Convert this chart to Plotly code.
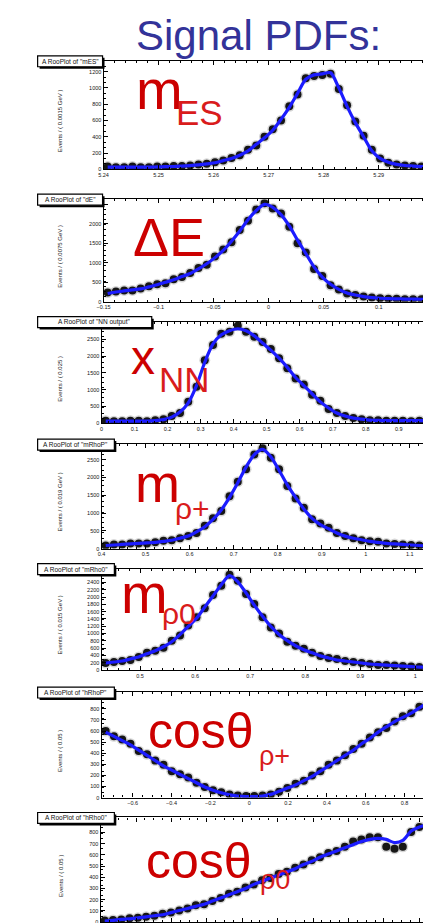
import plotly.graph_objects as go

W, H = 431, 923
NBINS = 40

# ---------------- data (normalised to frame height) ----------------
mes_range = [5.24, 5.30]
mes_fit = [0.02, 0.02, 0.02, 0.02, 0.02, 0.02, 0.022, 0.024, 0.026, 0.03, 0.034, 0.04, 0.05, 0.06, 0.08, 0.10,
           0.13, 0.17, 0.23, 0.29, 0.36, 0.46, 0.57, 0.70, 0.83, 0.87, 0.88, 0.89, 0.75, 0.58, 0.43, 0.30, 0.17,
           0.10, 0.065, 0.045, 0.035, 0.03, 0.025, 0.022]
mes_dots = [0.025, 0.02, 0.02, 0.025, 0.02, 0.02, 0.025, 0.025, 0.03, 0.03, 0.035, 0.045, 0.05, 0.065, 0.08, 0.105,
            0.13, 0.18, 0.22, 0.30, 0.37, 0.45, 0.58, 0.69, 0.84, 0.86, 0.87, 0.88, 0.74, 0.59, 0.44, 0.31, 0.18,
            0.10, 0.06, 0.045, 0.035, 0.03, 0.025, 0.02]
mes_yticks = ["0", "200", "400", "600", "800", "1000", "1200"]

de_range = [-0.15, 0.15]
de_fit = [0.08, 0.095, 0.105, 0.115, 0.125, 0.145, 0.165, 0.19, 0.215, 0.245, 0.275, 0.32, 0.37, 0.43, 0.50, 0.59,
          0.69, 0.80, 0.89, 0.95, 0.92, 0.85, 0.74, 0.60, 0.47, 0.34, 0.24, 0.17, 0.12, 0.085, 0.065, 0.05, 0.04,
          0.034, 0.03, 0.028, 0.026, 0.025, 0.024, 0.024]
de_dots = [0.09, 0.10, 0.11, 0.11, 0.13, 0.15, 0.17, 0.18, 0.22, 0.24, 0.28, 0.33, 0.36, 0.44, 0.51, 0.58, 0.70,
           0.79, 0.90, 0.96, 0.91, 0.86, 0.73, 0.57, 0.48, 0.32, 0.25, 0.16, 0.12, 0.08, 0.065, 0.05, 0.04, 0.035,
           0.03, 0.03, 0.025, 0.025, 0.025, 0.025]
de_yticks = ["0", "500", "1000", "1500", "2000", "2500"]

xnn_range = [0.0, 1.0]
xnn_fit = [0.02, 0.02, 0.02, 0.02, 0.02, 0.021, 0.025, 0.035, 0.06, 0.11, 0.20, 0.37, 0.60, 0.78, 0.87, 0.91, 0.93,
           0.91, 0.86, 0.79, 0.72, 0.64, 0.55, 0.45, 0.37, 0.29, 0.21, 0.15, 0.10, 0.07, 0.05, 0.04, 0.03, 0.027,
           0.025, 0.025, 0.025, 0.025, 0.025, 0.025]
xnn_dots = [0.025, 0.02, 0.02, 0.025, 0.025, 0.02, 0.03, 0.04, 0.07, 0.10, 0.21, 0.36, 0.62, 0.77, 0.88, 0.90, 0.96,
            0.90, 0.85, 0.80, 0.73, 0.64, 0.54, 0.44, 0.38, 0.28, 0.22, 0.14, 0.10, 0.07, 0.05, 0.04, 0.03, 0.03,
            0.025, 0.025, 0.025, 0.02, 0.025, 0.025]
xnn_yticks = ["0", "500", "1000", "1500", "2000", "2500"]

mrp_range = [0.40, 1.15]
mrp_fit = [0.03, 0.035, 0.04, 0.045, 0.05, 0.055, 0.06, 0.07, 0.08, 0.10, 0.12, 0.16, 0.21, 0.28, 0.37, 0.49, 0.63,
           0.78, 0.90, 0.95, 0.88, 0.75, 0.61, 0.49, 0.38, 0.29, 0.23, 0.19, 0.15, 0.12, 0.10, 0.085, 0.07, 0.06,
           0.05, 0.045, 0.04, 0.035, 0.03, 0.025]
mrp_dots = [0.03, 0.04, 0.04, 0.05, 0.05, 0.05, 0.06, 0.075, 0.08, 0.10, 0.12, 0.15, 0.22, 0.29, 0.36, 0.50, 0.64,
            0.76, 0.90, 0.96, 0.87, 0.76, 0.60, 0.48, 0.39, 0.28, 0.24, 0.20, 0.15, 0.12, 0.10, 0.08, 0.07, 0.065,
            0.05, 0.045, 0.04, 0.035, 0.03, 0.03]
mrp_yticks = ["0", "500", "1000", "1500", "2000", "2500"]

mr0_range = [0.43, 1.03]
mr0_fit = [0.07, 0.08, 0.09, 0.11, 0.13, 0.16, 0.19, 0.23, 0.28, 0.35, 0.43, 0.51, 0.62, 0.73, 0.84, 0.93, 0.87,
           0.76, 0.64, 0.53, 0.43, 0.35, 0.29, 0.24, 0.20, 0.17, 0.14, 0.12, 0.10, 0.09, 0.08, 0.07, 0.06, 0.055,
           0.05, 0.045, 0.04, 0.035, 0.03, 0.03]
mr0_dots = [0.07, 0.08, 0.09, 0.10, 0.13, 0.17, 0.19, 0.22, 0.29, 0.34, 0.44, 0.52, 0.61, 0.74, 0.83, 0.94, 0.88,
            0.75, 0.65, 0.52, 0.42, 0.36, 0.28, 0.24, 0.21, 0.17, 0.14, 0.12, 0.11, 0.09, 0.08, 0.07, 0.06, 0.05,
            0.05, 0.045, 0.04, 0.035, 0.03, 0.03]
mr0_yticks = ["0", "200", "400", "600", "800", "1000", "1200", "1400", "1600", "1800", "2000", "2200", "2400"]

ctp_range = [-0.76, 0.94]
ctp_fit = [0.62, 0.58, 0.54, 0.50, 0.45, 0.40, 0.35, 0.30, 0.26, 0.22, 0.18, 0.14, 0.10, 0.07, 0.045, 0.025, 0.015,
           0.01, 0.01, 0.015, 0.03, 0.06, 0.09, 0.12, 0.16, 0.20, 0.25, 0.30, 0.35, 0.40, 0.45, 0.51, 0.56, 0.62,
           0.67, 0.72, 0.76, 0.80, 0.85, 0.90]
ctp_dots = [0.63, 0.58, 0.55, 0.51, 0.44, 0.41, 0.35, 0.31, 0.25, 0.22, 0.19, 0.14, 0.10, 0.07, 0.05, 0.03, 0.02,
            0.015, 0.015, 0.02, 0.03, 0.055, 0.09, 0.13, 0.16, 0.21, 0.25, 0.31, 0.35, 0.40, 0.46, 0.51, 0.57, 0.62,
            0.66, 0.72, 0.77, 0.80, 0.86, 0.90]
ctp_yticks = ["0", "100", "200", "300", "400", "500", "600", "700", "800"]

ct0_range = [-1.0, 0.87]
ct0_fit = [0.01, 0.015, 0.025, 0.03, 0.04, 0.05, 0.06, 0.07, 0.09, 0.11, 0.13, 0.15, 0.17, 0.20, 0.23, 0.26, 0.29,
           0.32, 0.36, 0.39, 0.42, 0.45, 0.48, 0.51, 0.55, 0.58, 0.62, 0.65, 0.68, 0.71, 0.74, 0.77, 0.79, 0.80,
           0.79, 0.76, 0.78, 0.87, 0.91, 0.93]
ct0_dots = [0.015, 0.02, 0.025, 0.035, 0.04, 0.05, 0.06, 0.08, 0.09, 0.11, 0.13, 0.16, 0.17, 0.20, 0.23, 0.27, 0.29,
            0.33, 0.36, 0.40, 0.42, 0.46, 0.48, 0.52, 0.55, 0.59, 0.62, 0.66, 0.68, 0.72, 0.77, 0.79, 0.81, 0.81,
            0.72, 0.70, 0.72, 0.86, 0.91, 0.93]
ct0_yticks = ["0", "100", "200", "300", "400", "500", "600", "700", "800"]

# ---------------- panel layout ----------------
panels = [
    dict(top=53, bot=162, left=90, right=425, xr=mes_range, xd=0.01, ystep=0.15, yt=mes_yticks,
         fit=mes_fit, dots=mes_dots, boxw=66, boxt='A RooPlot of "mES"', ytitle="Events / ( 0.0015 GeV )"),
    dict(top=192, bot=295, left=90, right=425, xr=de_range, xd=0.05, ystep=0.19, yt=de_yticks,
         fit=de_fit, dots=de_dots, boxw=66, boxt='A RooPlot of "dE"', ytitle="Events / ( 0.0075 GeV )"),
    dict(top=315, bot=417, left=88, right=423, xr=xnn_range, xd=0.1, ystep=0.165, yt=xnn_yticks,
         fit=xnn_fit, dots=xnn_dots, boxw=116, boxt='A RooPlot of "NN output"', ytitle="Events / ( 0.025 )"),
    dict(top=438, bot=543, left=88, right=423, xr=mrp_range, xd=0.1, ystep=0.17, yt=mrp_yticks,
         fit=mrp_fit, dots=mrp_dots, boxw=78, boxt='A RooPlot of "mRhoP"', ytitle="Events / ( 0.019 GeV )"),
    dict(top=563, bot=665, left=88, right=423, xr=mr0_range, xd=0.1, ystep=0.072, yt=mr0_yticks,
         fit=mr0_fit, dots=mr0_dots, boxw=78, boxt='A RooPlot of "mRho0"', ytitle="Events / ( 0.015 GeV )"),
    dict(top=687, bot=793, left=88, right=423, xr=ctp_range, xd=0.2, ystep=0.105, yt=ctp_yticks,
         fit=ctp_fit, dots=ctp_dots, boxw=78, boxt='A RooPlot of "hRhoP"', ytitle="Events / ( 0.05 )"),
    dict(top=813, bot=918, left=87, right=423, xr=ct0_range, xd=0.2, ystep=0.107, yt=ct0_yticks,
         fit=ct0_fit, dots=ct0_dots, boxw=78, boxt='A RooPlot of "hRho0"', ytitle="Events / ( 0.05 )"),
]


def X(px):
    return px / W


def Y(py):
    return 1 - py / H


fig = go.Figure()
layout = dict(width=W, height=H, margin=dict(l=0, r=0, t=0, b=0), paper_bgcolor="white",
              plot_bgcolor="white", showlegend=False)
shapes = []
annotations = []
FONT = "Liberation Sans, Arial, sans-serif"

for k, p in enumerate(panels, start=1):
    lo, hi = p["xr"]
    width = (hi - lo) / NBINS
    xs = [lo + (i + 0.5) * width for i in range(NBINS)]
    xa = "x" if k == 1 else f"x{k}"
    ya = "y" if k == 1 else f"y{k}"
    # soft halo imitating the blur of the scanned dots
    fig.add_trace(go.Scatter(x=xs, y=p["dots"], mode="markers", xaxis=xa, yaxis=ya,
                             marker=dict(size=11, color="rgba(0,0,0,0.16)"), hoverinfo="skip"))
    fig.add_trace(go.Scatter(x=xs, y=p["dots"], mode="markers", xaxis=xa, yaxis=ya,
                             marker=dict(size=8, color="#161616"), hoverinfo="skip"))
    fig.add_trace(go.Scatter(x=xs, y=p["fit"], mode="lines", xaxis=xa, yaxis=ya,
                             line=dict(color="#1c1cff", width=3.2, shape="spline", smoothing=0.8),
                             hoverinfo="skip"))
    tickvals = [j * p["ystep"] for j in range(len(p["yt"]))]
    axis_common = dict(showline=True, linecolor="black", linewidth=1.2, mirror="allticks", ticks="inside",
                       ticklen=4, tickcolor="black", tickwidth=1, showgrid=False, zeroline=False,
                       tickfont=dict(size=5.5, color="#151515", family=FONT))
    # right end shaved a hair so that the last tick label does not sit on the page edge
    layout["xaxis" if k == 1 else f"xaxis{k}"] = dict(
        axis_common, domain=[X(p["left"]), X(p["right"])], range=[lo, hi - (hi - lo) * 0.002], anchor=ya,
        dtick=p["xd"], tick0=0, minor=dict(ticks="inside", ticklen=2, tickcolor="black", nticks=5))
    layout["yaxis" if k == 1 else f"yaxis{k}"] = dict(
        axis_common, domain=[Y(p["bot"]), Y(p["top"])], range=[0, 1], anchor=xa,
        tickvals=tickvals, ticktext=p["yt"],
        minor=dict(ticks="inside", ticklen=2, tickcolor="black", nticks=5))
    # title box (ROOT style with shadow)
    bx0, bx1 = 23, 23 + p["boxw"]
    by0, by1 = p["top"] - 5, p["top"] + 6
    shapes.append(dict(type="rect", xref="paper", yref="paper", x0=X(bx0 + 2), x1=X(bx1 + 2),
                       y0=Y(by1 + 2), y1=Y(by0 + 2), fillcolor="black", line=dict(width=0)))
    shapes.append(dict(type="rect", xref="paper", yref="paper", x0=X(bx0), x1=X(bx1),
                       y0=Y(by1), y1=Y(by0), fillcolor="white", line=dict(color="black", width=1.2)))
    annotations.append(dict(text=p["boxt"], xref="paper", yref="paper", x=X((bx0 + bx1) / 2),
                            y=Y((by0 + by1) / 2), showarrow=False, xanchor="center", yanchor="middle",
                            font=dict(size=6.5, color="#111", family=FONT)))
    annotations.append(dict(text=p["ytitle"], xref="paper", yref="paper", x=X(46),
                            y=Y((p["top"] + p["bot"]) / 2 + 6), showarrow=False, textangle=-90,
                            xanchor="center", yanchor="middle",
                            font=dict(size=6, color="#222", family=FONT)))

# ---------------- red variable labels ----------------
RED = "#cc0000"
RED2 = "#d91c1c"
# (text, left px, baseline px, font size, colour)
labels = [
    ("m", 121, 100, 56, RED), ("ES", 162, 117, 35, RED2),
    ("ΔE", 118, 248, 54, RED),
    ("x", 116, 367, 48, RED), ("NN", 144, 385, 35, RED2),
    ("m", 120, 495, 54, RED), ("ρ+", 161, 513, 30, RED2),
    ("m", 106, 607, 56, RED), ("ρ0", 147, 619, 30, RED2),
    ("cosθ", 133, 743, 50, RED), ("ρ+", 246, 761, 27, RED2),
    ("cosθ", 131, 873, 50, RED), ("ρ0", 247, 886, 27, RED2),
]
for txt, lx, base, fs, col in labels:
    annotations.append(dict(text=txt, xref="paper", yref="paper", x=X(lx), y=Y(base + 0.27 * fs),
                            showarrow=False, xanchor="left", yanchor="bottom",
                            font=dict(size=fs, color=col, family=FONT)))

annotations.append(dict(text="Signal PDFs:", xref="paper", yref="paper", x=X(248), y=Y(42 + 0.27 * 42),
                        showarrow=False, xanchor="center", yanchor="bottom",
                        font=dict(size=42, color="#333399", family=FONT)))

layout["shapes"] = shapes
layout["annotations"] = annotations
fig.update_layout(**layout)
fig.write_html("out.html")
